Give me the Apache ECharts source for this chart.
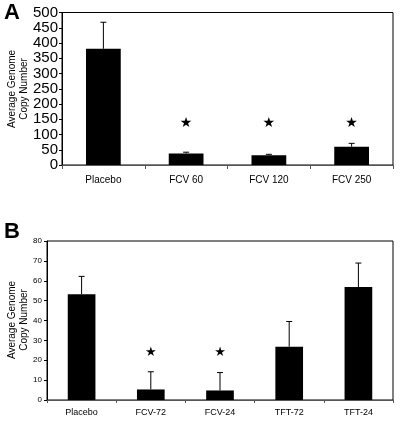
<!DOCTYPE html>
<html><head><meta charset="utf-8">
<script src="https://cdn.jsdelivr.net/npm/echarts@6/dist/echarts.min.js"></script>
<style>html,body{margin:0;padding:0;background:#fff}#c{width:404px;height:423px}</style>
</head><body><div id="c"></div>
<script>
// Panel A
const catsA = ['Placebo', 'FCV 60', 'FCV 120', 'FCV 250'];
const meansA = [381, 38, 32, 60];
const errTopA = [468, 42, 35, 71];
const starsA = [null, 135, 135, 135];
const ticksA = [0, 50, 100, 150, 200, 250, 300, 350, 400, 450, 500];
// Panel B
const catsB = ['Placebo', 'FCV-72', 'FCV-24', 'TFT-72', 'TFT-24'];
const meansB = [53.2, 5.3, 4.8, 26.8, 56.8];
const errTopB = [62.2, 14.2, 13.8, 39.5, 68.9];
const starsB = [null, 24, 24, null, null];
const ticksB = [0, 10, 20, 30, 40, 50, 60, 70, 80];
const yTitle = 'Average Genome\nCopy Number';

const font = 'Liberation Sans, Arial, sans-serif';
const chart = echarts.init(document.getElementById('c'), null, {renderer: 'canvas'});

function errSeries(cats, means, tops, idx) {
  return {
    type: 'custom', xAxisIndex: idx, yAxisIndex: idx, z: 1,
    data: cats.map((c, i) => [i, means[i], tops[i]]),
    renderItem: function (params, api) {
      const a = api.coord([api.value(0), api.value(1)]);
      const b = api.coord([api.value(0), api.value(2)]);
      return {type: 'group', children: [
        {type: 'line', shape: {x1: a[0], y1: a[1], x2: b[0], y2: b[1]}, style: {stroke: '#000', lineWidth: 1}},
        {type: 'line', shape: {x1: b[0] - 3, y1: b[1], x2: b[0] + 3, y2: b[1]}, style: {stroke: '#000', lineWidth: 1}}
      ]};
    }
  };
}
function starSeries(cats, stars, idx, size) {
  return {
    type: 'custom', xAxisIndex: idx, yAxisIndex: idx, z: 3,
    data: cats.map((c, i) => [i, stars[i]]).filter(d => d[1] !== null),
    renderItem: function (params, api) {
      const p = api.coord([api.value(0), api.value(1)]);
      return {type: 'text', x: p[0], y: p[1], style: {text: '★', fill: '#000', font: size + 'px DejaVu Sans', align: 'center', verticalAlign: 'middle'}};
    }
  };
}

chart.setOption({
  animation: false,
  backgroundColor: '#fff',
  graphic: [
    {type: 'text', left: 4, top: 2, style: {text: 'A', font: 'bold 22px ' + font, fill: '#000'}},
    {type: 'text', left: 4, top: 221, style: {text: 'B', font: 'bold 22px ' + font, fill: '#000'}},
    {type: 'text', x: 18, y: 89, rotation: Math.PI / 2,
     style: {text: yTitle, font: '10px ' + font, lineHeight: 12, fill: '#000', align: 'center', verticalAlign: 'middle'}},
    {type: 'text', x: 18, y: 320, rotation: Math.PI / 2,
     style: {text: yTitle, font: '10px ' + font, lineHeight: 12, fill: '#000', align: 'center', verticalAlign: 'middle'}}
  ],
  grid: [
    {left: 62, right: 11, top: 12.5, height: 152.5, show: true, borderColor: '#000', borderWidth: 1,
     containLabel: false, outerBoundsMode: 'none'},
    {left: 47, right: 11, top: 241, height: 159, show: true, borderColor: '#000', borderWidth: 1,
     containLabel: false, outerBoundsMode: 'none'}
  ],
  xAxis: [
    {type: 'category', gridIndex: 0, data: catsA,
     axisLine: {lineStyle: {color: '#555', width: 1}},
     axisTick: {show: true, length: 4, lineStyle: {color: '#555'}},
     axisLabel: {color: '#000', fontSize: 10, fontFamily: font, margin: 10}},
    {type: 'category', gridIndex: 1, data: catsB,
     axisLine: {lineStyle: {color: '#555', width: 1}},
     axisTick: {show: true, length: 3, lineStyle: {color: '#555'}},
     axisLabel: {color: '#000', fontSize: 9, fontFamily: font, margin: 8}}
  ],
  yAxis: [
    {type: 'value', gridIndex: 0, min: ticksA[0], max: ticksA[ticksA.length - 1], interval: 50,
     axisLine: {show: true, lineStyle: {color: '#000'}},
     axisTick: {show: true, length: 3, lineStyle: {color: '#000'}},
     splitLine: {show: false},
     axisLabel: {color: '#000', fontSize: 15, fontFamily: font, margin: 4}},
    {type: 'value', gridIndex: 1, min: ticksB[0], max: ticksB[ticksB.length - 1], interval: 10,
     axisLine: {show: true, lineStyle: {color: '#000'}},
     axisTick: {show: true, length: 3, lineStyle: {color: '#000'}},
     splitLine: {show: false},
     axisLabel: {color: '#000', fontSize: 8, fontFamily: font, margin: 5}}
  ],
  series: [
    {type: 'bar', xAxisIndex: 0, yAxisIndex: 0, data: meansA, barWidth: '42%', z: 2,
     itemStyle: {color: '#000'}},
    errSeries(catsA, meansA, errTopA, 0),
    starSeries(catsA, starsA, 0, 14),
    {type: 'bar', xAxisIndex: 1, yAxisIndex: 1, data: meansB, barWidth: '40%', z: 2,
     itemStyle: {color: '#000'}},
    errSeries(catsB, meansB, errTopB, 1),
    starSeries(catsB, starsB, 1, 13)
  ]
});
</script></body></html>
